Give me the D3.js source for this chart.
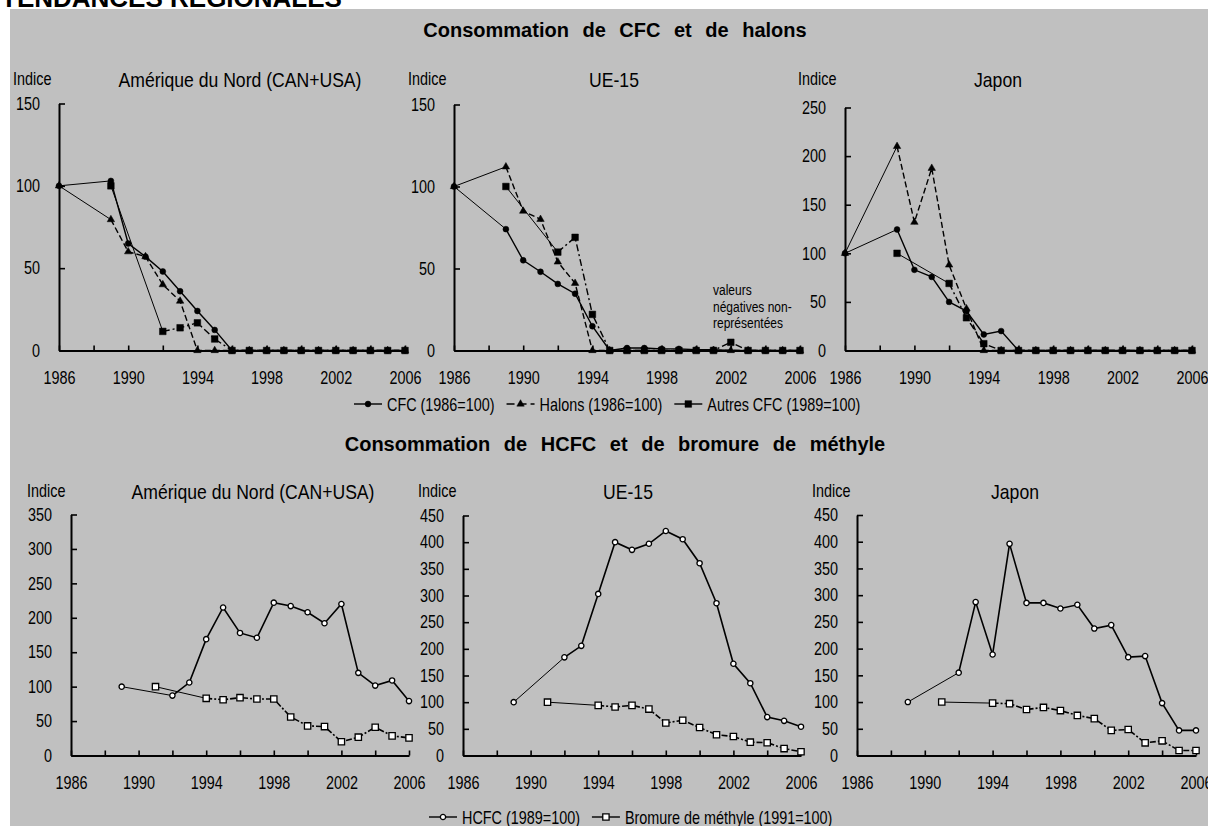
<!DOCTYPE html>
<html>
<head>
<meta charset="utf-8">
<script src="https://cdn.jsdelivr.net/npm/d3@7"></script>
<style>
  body { margin: 0; background: #fff; }
  svg { display: block; font-family: 'Liberation Sans', Arial, sans-serif; }
</style>
</head>
<body>
<svg id="chart" width="1208" height="826"></svg>
<script>
// categories
const years = [1986, 1987, 1988, 1989, 1990, 1991, 1992, 1993, 1994, 1995, 1996,
  1997, 1998, 1999, 2000, 2001, 2002, 2003, 2004, 2005, 2006]
const yearLabels = [1986, 1990, 1994, 1998, 2002, 2006]
const yearTicks = [1986, 1988, 1990, 1992, 1994, 1996, 1998, 2000, 2002, 2004, 2006]

// y tick labels
const ticks150 = [0, 50, 100, 150]
const ticks250 = [0, 50, 100, 150, 200, 250]
const ticks350 = [0, 50, 100, 150, 200, 250, 300, 350]
const ticks450 = [0, 50, 100, 150, 200, 250, 300, 350, 400, 450]

// Consommation de CFC et de halons (index)
const naCFC = [100, null, null, 103, 65, 57, 48, 36, 24, 12.5, 0, 0, 0, 0, 0, 0, 0, 0, 0, 0, 0]
const naHalons = [100, null, null, 79.5, 60, 57, 40, 30, 0, 0, 0, 0, 0, 0, 0, 0, 0, 0, 0, 0, 0]
const naAutres = [null, null, null, 100, null, null, 11.6, 13.8, 16.8, 7, 0, 0, 0, 0, 0, 0, 0, 0, 0, 0, 0]

const ueCFC = [100, null, null, 74, 55, 48, 40.6, 34.6, 14.8, 0, 1.5, 1.5, 1, 1, 0.5, 0.5, null, 0, 0, 0, 0]
const ueHalons = [100, null, null, 112, 85, 80, 54, 41, 0, 0, 0, 0, 0, 0, 0, 0, 0, 0, 0, 0, 0]
const ueAutres = [null, null, null, 100, null, null, 60, 69, 22, 0, 0, 0, 0, 0, 0, 0, 5, 0, 0, 0, 0]

const jpCFC = [100, null, null, 124.5, 83, 75.7, 50, 40.6, 16.5, 20, 0, 0, 0, 0, 0, 0, 0, 0, 0, 0, 0]
const jpHalons = [100, null, null, 210, 132, 187.5, 88, 43, 0, 0, 0, 0, 0, 0, 0, 0, 0, 0, 0, 0, 0]
const jpAutres = [null, null, null, 100, null, null, 69, 33.7, 7, 0, 0, 0, 0, 0, 0, 0, 0, 0, 0, 0, 0]

// Consommation de HCFC et de bromure de méthyle (index)
const naHCFC = [null, null, null, 100, null, null, 87, 106, 169, 215, 178, 171, 222, 217, 208, 192, 220, 120, 101.5, 109, 79]
const naBromure = [null, null, null, null, null, 100, null, null, 83, 81, 84, 82, 82, 56, 43, 42, 20, 26.6, 41, 28.5, 25.6]

const ueHCFC = [null, null, null, 100, null, null, 184, 205.6, 303, 400, 385.6, 397, 421, 405.6, 360.6, 285.6, 172, 135.6, 72, 65, 54]
const ueBromure = [null, null, null, null, null, 100, null, null, 94, 91, 94, 87, 61, 66, 52.5, 39, 35.6, 25, 24, 13, 7]

const jpHCFC = [null, null, null, 100, null, null, 155, 287, 189, 396, 285.5, 285.5, 275, 282, 237.5, 244, 184, 186, 98, 47, 47]
const jpBromure = [null, null, null, null, null, 100, null, null, 98, 97, 86, 90, 84, 75, 69, 47, 48.6, 23.7, 27.4, 9.4, 9.4]

const regionNames = ['Amérique du Nord (CAN+USA)', 'UE-15', 'Japon']
const topLegend = ['CFC (1986=100)', 'Halons (1986=100)', 'Autres CFC (1989=100)']
const bottomLegend = ['HCFC (1989=100)', 'Bromure de méthyle (1991=100)']
const noteLines = ['valeurs', 'négatives non-', 'représentées']

const NARROW = 0.8

const topStyles = [
  {dash: null, legendDash: null, symbol: d3.symbolCircle, size: 27, fill: '#000'},
  {dash: '6,3', legendDash: '8,4', symbol: d3.symbolTriangle, size: 24, fill: '#000'},
  {dash: '7,3,2,3', legendDash: null, symbol: d3.symbolSquare, size: 44, fill: '#000'}
]
const bottomStyles = [
  {dash: null, legendDash: null, symbol: d3.symbolCircle, size: 22, fill: '#fff'},
  {dash: '6,2,2,2', legendDash: null, symbol: d3.symbolSquare, size: 40, fill: '#fff'}
]

const topRow = [
  {x0: 59, x1: 405, yTop: 103.5, ticks: ticks150, series: [naCFC, naHalons, naAutres], indiceX: 13, titleX: 240},
  {x0: 454, x1: 800, yTop: 104.5, ticks: ticks150, series: [ueCFC, ueHalons, ueAutres], indiceX: 408, titleX: 614},
  {x0: 845, x1: 1192, yTop: 107.5, ticks: ticks250, series: [jpCFC, jpHalons, jpAutres], indiceX: 798, titleX: 998}
]
const bottomRow = [
  {x0: 71, x1: 409, yTop: 514.5, ticks: ticks350, series: [naHCFC, naBromure], indiceX: 27, titleX: 253},
  {x0: 463, x1: 801, yTop: 515.5, ticks: ticks450, series: [ueHCFC, ueBromure], indiceX: 418, titleX: 628},
  {x0: 857, x1: 1196, yTop: 515, ticks: ticks450, series: [jpHCFC, jpBromure], indiceX: 812, titleX: 1015}
]

const svg = d3.select('#chart')

svg.append('rect')
  .attr('x', 10).attr('y', 9)
  .attr('width', 1198).attr('height', 817)
  .attr('fill', '#c0c0c0')

svg.append('text')
  .attr('x', 1).attr('y', 7)
  .attr('font-size', 26).attr('font-weight', 'bold')
  .text('TENDANCES RÉGIONALES')

// condensed text, like the Arial Narrow of the original
const narrowText = (parent, x, y, txt, size, anchor = 'start', k = NARROW) =>
  parent.append('text')
    .attr('transform', `translate(${x},${y}) scale(${k},1)`)
    .attr('font-size', size)
    .attr('text-anchor', anchor)
    .text(txt)

const sectionTitle = (txt, cx, y) =>
  svg.append('text')
    .attr('x', cx).attr('y', y)
    .attr('text-anchor', 'middle')
    .attr('font-size', 20).attr('font-weight', 'bold')
    .attr('word-spacing', 8)
    .text(txt)

const narrowAxisText = g => {
  g.attr('font-family', null).attr('font-size', 18)
  g.select('.domain').attr('stroke-width', 2)
  g.selectAll('.tick line').attr('stroke-width', 1.6)
  g.selectAll('.tick text').each(function () {
    const t = d3.select(this)
    const x = +t.attr('x') || 0
    t.attr('x', x / NARROW).attr('transform', `scale(${NARROW},1)`)
  })
}

function drawPanel (p, i, yBottom, styles, titleY, indiceY, lineWidth) {
  const x = d3.scaleLinear().domain([1986, 2006]).range([p.x0, p.x1])
  const y = d3.scaleLinear().domain([0, d3.max(p.ticks)]).range([yBottom, p.yTop])
  const line = d3.line().x(d => x(d.yr)).y(d => y(d.v))
  const g = svg.append('g')

  g.append('g')
    .attr('transform', `translate(0,${yBottom})`)
    .call(d3.axisBottom(x)
      .tickValues(yearTicks)
      .tickSizeInner(-5).tickSizeOuter(0).tickPadding(21)
      .tickFormat(d => yearLabels.includes(d) ? String(d) : ''))
    .call(narrowAxisText)

  g.append('g')
    .attr('transform', `translate(${p.x0},0)`)
    .call(d3.axisLeft(y)
      .tickValues(p.ticks)
      .tickSizeInner(-6).tickSizeOuter(0).tickPadding(19))
    .call(narrowAxisText)

  narrowText(g, p.indiceX, indiceY, 'Indice', 18)
  narrowText(g, p.titleX, titleY, regionNames[i], 20, 'middle', 0.88)

  p.series.forEach((values, s) => {
    const st = styles[s]
    const pts = years.map((yr, j) => ({yr, v: values[j]})).filter(d => d.v !== null)

    // runs of consecutive years keep the series style,
    // the jumps over missing years are drawn as a thin plain line
    const runs = [[pts[0]]]
    const gaps = []
    for (let k = 1; k < pts.length; k++) {
      if (pts[k].yr - pts[k - 1].yr > 1) {
        gaps.push([pts[k - 1], pts[k]])
        runs.push([pts[k]])
      } else {
        runs[runs.length - 1].push(pts[k])
      }
    }

    g.selectAll(null)
      .data(gaps)
      .enter()
      .append('path')
      .attr('fill', 'none')
      .attr('stroke', '#000')
      .attr('stroke-width', 1)
      .attr('d', line)

    g.selectAll(null)
      .data(runs.filter(r => r.length > 1))
      .enter()
      .append('path')
      .attr('fill', 'none')
      .attr('stroke', '#000')
      .attr('stroke-width', lineWidth)
      .attr('stroke-dasharray', st.dash)
      .attr('d', line)

    g.selectAll(null)
      .data(pts)
      .enter()
      .append('path')
      .attr('transform', d => `translate(${x(d.yr)},${y(d.v)})`)
      .attr('d', d3.symbol(st.symbol, st.size))
      .attr('fill', st.fill)
      .attr('stroke', '#000')
      .attr('stroke-width', st.fill === '#fff' ? 1.3 : 0.5)
  })
}

function drawLegend (labels, styles, startX, cy) {
  let x = startX
  labels.forEach((txt, i) => {
    const st = styles[i]
    svg.append('line')
      .attr('x1', x).attr('x2', x + 28)
      .attr('y1', cy).attr('y2', cy)
      .attr('stroke', '#000').attr('stroke-width', 1.4)
      .attr('stroke-dasharray', st.legendDash)
    svg.append('path')
      .attr('transform', `translate(${x + 14},${cy})`)
      .attr('d', d3.symbol(st.symbol, st.size))
      .attr('fill', st.fill)
      .attr('stroke', '#000')
      .attr('stroke-width', st.fill === '#fff' ? 1.3 : 0.5)
    const t = narrowText(svg, x + 33, cy + 6.5, txt, 18)
    x += 33 + t.node().getComputedTextLength() * NARROW + 12
  })
}

sectionTitle('Consommation de CFC et de halons', 615, 37)
topRow.forEach((p, i) => drawPanel(p, i, 350.5, topStyles, 87, 84.5, 1.4))
drawLegend(topLegend, topStyles, 354, 404)

// note on the UE-15 panel
noteLines.forEach((l, i) => narrowText(svg, 713, 295 + i * 16.5, l, 15))

sectionTitle('Consommation de HCFC et de bromure de méthyle', 615, 451)
bottomRow.forEach((p, i) => drawPanel(p, i, 755.5, bottomStyles, 499, 496.5, 1.6))
drawLegend(bottomLegend, bottomStyles, 429, 817)
</script>
</body>
</html>
